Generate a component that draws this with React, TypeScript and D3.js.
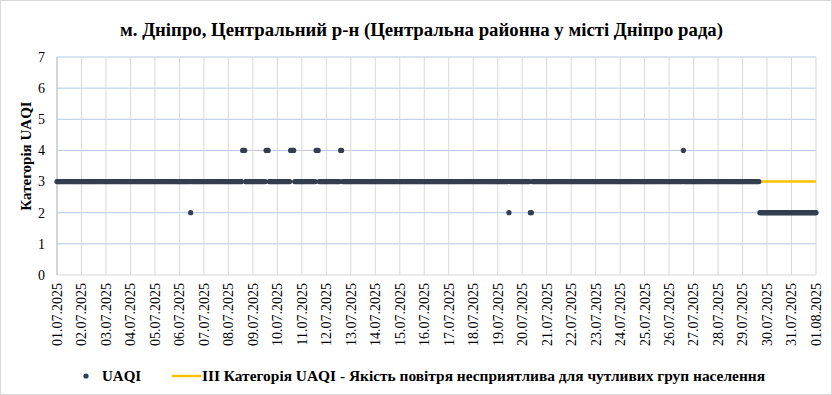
import React from "react";
import * as d3 from "d3";

// ---- Data ----
// Hourly UAQI category, run-length encoded: hour offset from 01.07.2025 00:00
const runStartHour = [0, 131, 132, 182, 185, 205, 208, 229, 233, 254, 257, 278, 280, 443, 444, 464, 466, 614, 615, 689];
const runEndHour = [130, 131, 181, 184, 204, 207, 228, 232, 253, 256, 277, 279, 442, 443, 463, 465, 613, 614, 688, 744];
const runValue = [3, 2, 3, 4, 3, 4, 3, 4, 3, 4, 3, 4, 3, 2, 3, 2, 3, 4, 3, 2];

const thresholdValue = 3; // III category line
const yTicks = [0, 1, 2, 3, 4, 5, 6, 7];
const xTickLabels = [
  "01.07.2025", "02.07.2025", "03.07.2025", "04.07.2025", "05.07.2025", "06.07.2025", "07.07.2025", "08.07.2025",
  "09.07.2025", "10.07.2025", "11.07.2025", "12.07.2025", "13.07.2025", "14.07.2025", "15.07.2025", "16.07.2025",
  "17.07.2025", "18.07.2025", "19.07.2025", "20.07.2025", "21.07.2025", "22.07.2025", "23.07.2025", "24.07.2025",
  "25.07.2025", "26.07.2025", "27.07.2025", "28.07.2025", "29.07.2025", "30.07.2025", "31.07.2025", "01.08.2025",
];

const title = "м. Дніпро, Центральний р-н (Центральна районна у місті Дніпро рада)";
const yTitle = "Категорія UAQI";
const legendPoints = "UAQI";
const legendLine = "ІІІ Категорія UAQI - Якість повітря несприятлива для чутливих груп населення";

const W = 832;
const H = 395;
const M = { left: 57, right: 816, top: 57, bottom: 275 };
const FONT = "'Liberation Serif', 'Times New Roman', serif";
const DOT = "#333f50";
const YELLOW = "#ffc000";

const start = new Date(2025, 6, 1, 0, 0);
const end = new Date(2025, 7, 1, 0, 0);

export default function App() {
  const x = d3.scaleTime().domain([start, end]).range([M.left, M.right]);
  const y = d3.scaleLinear().domain([0, 7]).range([M.bottom, M.top]);

  const points: { t: Date; v: number }[] = [];
  runStartHour.forEach((s, i) => {
    for (let h = s; h <= runEndHour[i]; h++) {
      points.push({ t: d3.timeHour.offset(start, h), v: runValue[i] });
    }
  });

  const days = d3.timeDay.range(start, d3.timeDay.offset(end, 1));

  return (
    <svg width={W} height={H} style={{ position: "absolute", left: 0, top: 0, background: "#fff" }} fontFamily={FONT}>
      <rect x={0.5} y={0.5} width={W - 1} height={H - 1} fill="#fff" stroke="#d9d9d9" />
      <text x={421.5} y={36} textAnchor="middle" fontSize={18.5} fontWeight="bold" fill="#000" textLength={603} lengthAdjust="spacingAndGlyphs">{title}</text>

      {/* horizontal gridlines */}
      {yTicks.filter((t) => t > 0).map((t) => (
        <line key={"h" + t} x1={M.left} x2={M.right} y1={y(t)} y2={y(t)} stroke="#b4c7e7" strokeWidth={1} />
      ))}
      {/* vertical gridlines */}
      {days.map((d, i) => (
        <line key={"v" + i} x1={x(d)} x2={x(d)} y1={M.top} y2={M.bottom} stroke="#d9d9d9" strokeWidth={1} />
      ))}
      <line x1={M.left} x2={M.right} y1={y(0)} y2={y(0)} stroke="#d9d9d9" />
      <line x1={M.left} x2={M.left} y1={M.top} y2={M.bottom} stroke="#bfbfbf" />

      {/* y ticks */}
      {yTicks.map((t) => (
        <text key={"yt" + t} x={45} y={y(t)} dy="0.35em" textAnchor="end" fontSize={14} fill="#000">{t}</text>
      ))}
      {/* x tick labels */}
      {days.map((d, i) => (
        <text key={"xt" + i} transform={`translate(${x(d)},${283}) rotate(-90)`} dy="0.35em" textAnchor="end" fontSize={14} fill="#000">
          {xTickLabels[i]}
        </text>
      ))}

      <text transform={`translate(26,156) rotate(-90)`} dy="0.35em" textAnchor="middle" fontSize={15} fontWeight="bold" fill="#000">{yTitle}</text>

      {/* threshold line */}
      <line x1={x(start)} x2={x(end)} y1={y(thresholdValue)} y2={y(thresholdValue)} stroke={YELLOW} strokeWidth={2.5} />

      {/* points */}
      {points.map((p, i) => (
        <circle key={"p" + i} cx={x(p.t)} cy={y(p.v)} r={2.6} fill={DOT} />
      ))}

      {/* legend */}
      <circle cx={86} cy={376} r={2.6} fill={DOT} />
      <text x={102} y={376} dy="0.35em" fontSize={15} fontWeight="bold" fill="#000">{legendPoints}</text>
      <line x1={172} x2={201} y1={376} y2={376} stroke={YELLOW} strokeWidth={2.5} />
      <text x={202} y={376} dy="0.35em" fontSize={15} fontWeight="bold" fill="#000" textLength={563} lengthAdjust="spacingAndGlyphs">{legendLine}</text>
    </svg>
  );
}
